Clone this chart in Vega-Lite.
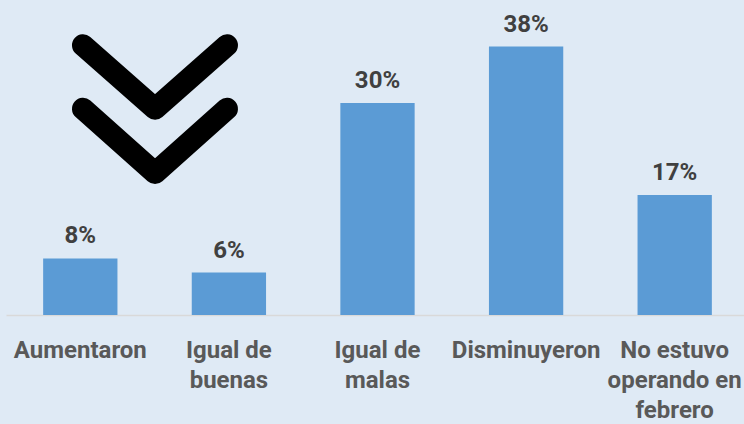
{
  "$schema": "https://vega.github.io/schema/vega-lite/v6.json",
  "autosize": "none",
  "padding": {"left": 6, "top": 0, "right": 0, "bottom": 109},
  "width": 743,
  "height": 315,
  "background": "#dfeaf5",
  "config": {"view": {"stroke": null}},
  "datasets": {
    "bars": [
      {"categoria": "Aumentaron", "pct": 0.08},
      {"categoria": "Igual de buenas", "pct": 0.06},
      {"categoria": "Igual de malas", "pct": 0.30},
      {"categoria": "Disminuyeron", "pct": 0.38},
      {"categoria": "No estuvo operando en febrero", "pct": 0.17}
    ],
    "chevron": [
      {"forma": "arriba", "orden": 1, "px": 0.518, "py": 0.382},
      {"forma": "arriba", "orden": 2, "px": 1.003, "py": 0.292},
      {"forma": "arriba", "orden": 3, "px": 1.487, "py": 0.382},
      {"forma": "abajo", "orden": 1, "px": 0.518, "py": 0.292},
      {"forma": "abajo", "orden": 2, "px": 1.003, "py": 0.201},
      {"forma": "abajo", "orden": 3, "px": 1.487, "py": 0.292}
    ]
  },
  "layer": [
    {
      "data": {"name": "bars"},
      "encoding": {
        "x": {
          "field": "categoria", "type": "nominal", "sort": null,
          "scale": {"paddingInner": 0.5, "paddingOuter": 0.25},
          "axis": {
            "title": null, "ticks": false, "labelAngle": 0,
            "domainColor": "#d9d9d9", "domainWidth": 1.5,
            "labelFont": "Roboto", "labelFontWeight": "bold",
            "labelFontSize": 24, "labelColor": "#595959",
            "labelBaseline": "alphabetic",
            "labelPadding": 42, "labelLineHeight": 30, "labelLimit": 0,
            "labelExpr": "datum.value == 'Igual de buenas' ? ['Igual de', 'buenas'] : datum.value == 'Igual de malas' ? ['Igual de', 'malas'] : datum.value == 'No estuvo operando en febrero' ? ['No estuvo', 'operando en', 'febrero'] : datum.value"
          }
        },
        "y": {
          "field": "pct", "type": "quantitative",
          "scale": {"domain": [0, 0.446], "nice": false},
          "axis": null
        }
      },
      "layer": [
        {"mark": {"type": "bar", "color": "#5b9bd5"}},
        {
          "mark": {"type": "text", "baseline": "alphabetic", "dy": -15, "font": "Roboto", "fontWeight": "bold", "fontSize": 24, "color": "#404040"},
          "encoding": {"text": {"field": "pct", "type": "quantitative", "format": ".0%"}}
        }
      ]
    },
    {
      "data": {"name": "chevron"},
      "mark": {"type": "line", "color": "#000000", "strokeWidth": 22, "strokeCap": "round", "strokeJoin": "round"},
      "encoding": {
        "x": {"field": "px", "type": "quantitative", "scale": {"domain": [0, 5], "nice": false}, "axis": null},
        "y": {"field": "py", "type": "quantitative", "scale": {"domain": [0, 0.446], "nice": false}, "axis": null},
        "detail": {"field": "forma"},
        "order": {"field": "orden"}
      }
    }
  ],
  "resolve": {"scale": {"x": "independent"}}
}
